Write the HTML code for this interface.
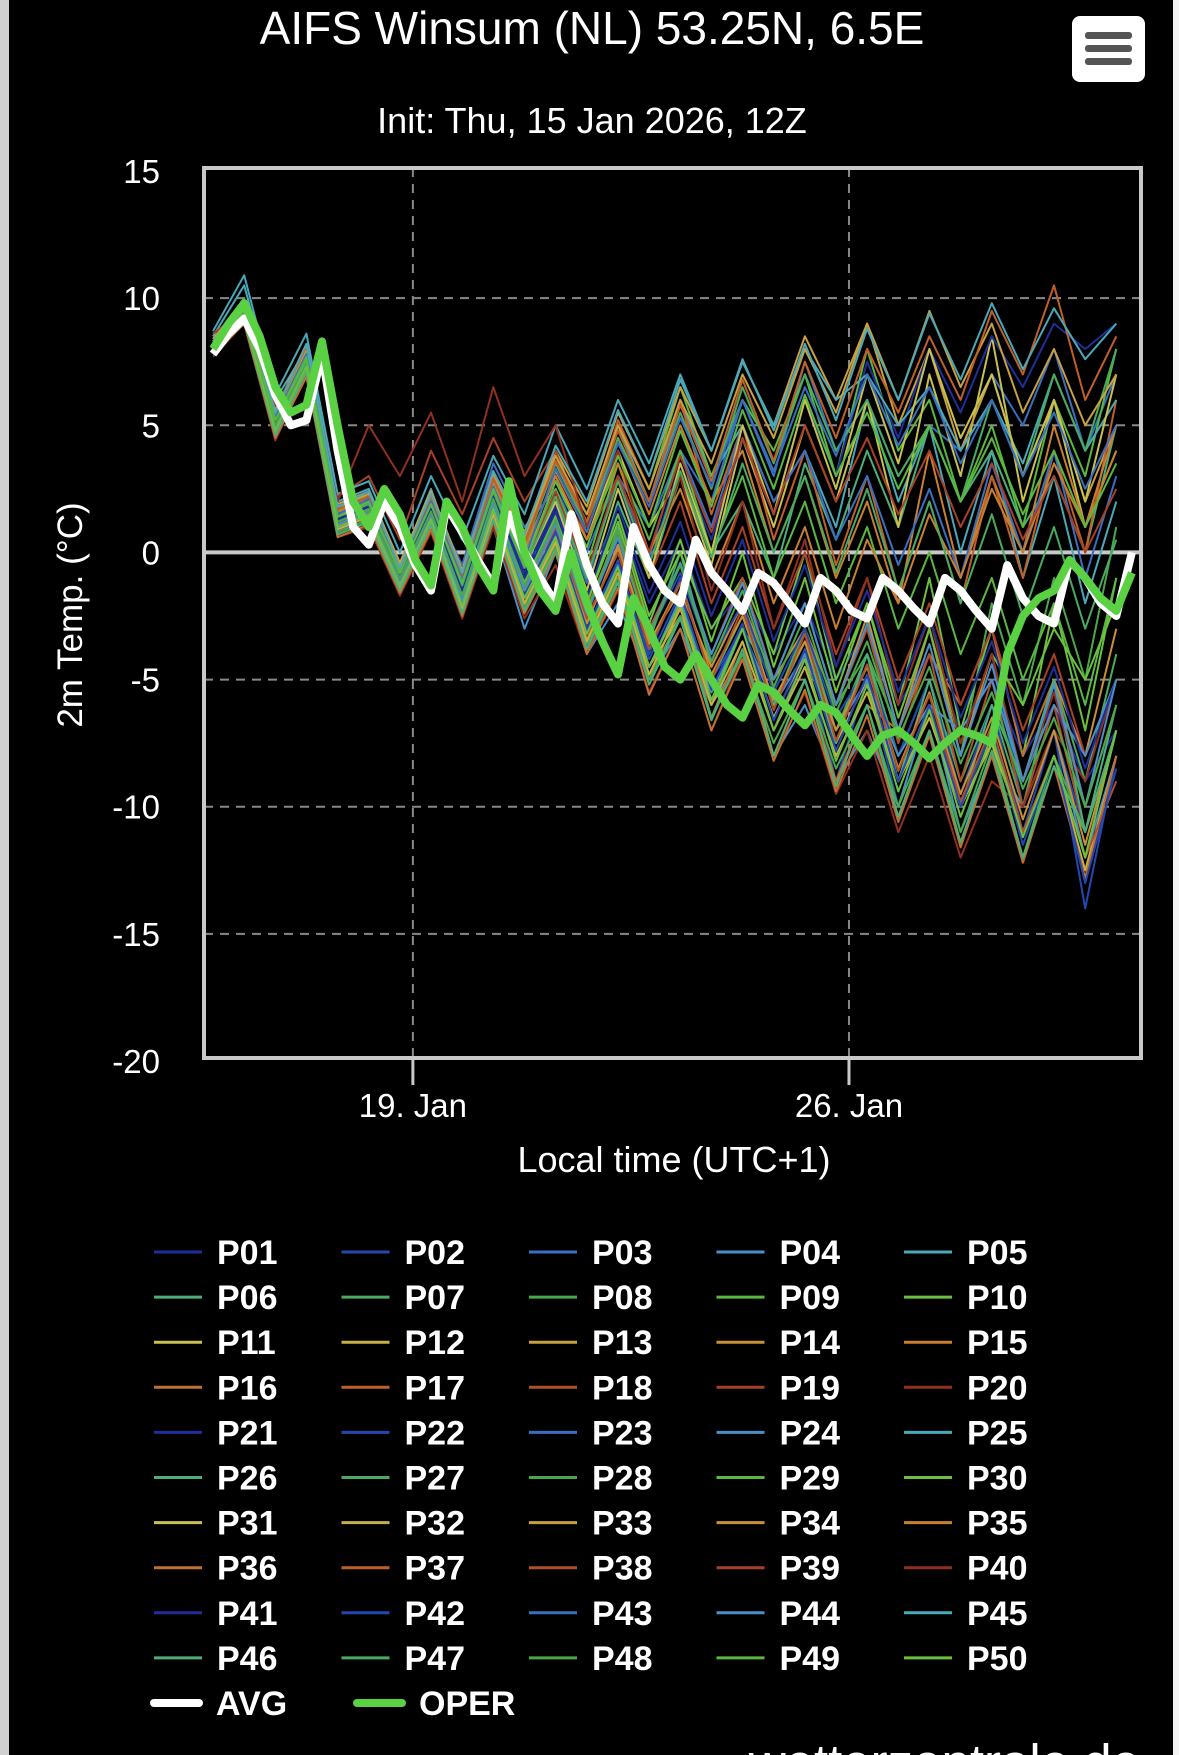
<!DOCTYPE html>
<html><head><meta charset="utf-8"><title>AIFS Winsum</title>
<style>
html,body{margin:0;padding:0;background:#000;}
svg{display:block;font-family:"Liberation Sans",sans-serif;}
</style></head>
<body>
<svg id="chart" width="1179" height="1755" viewBox="0 0 1179 1755">
<rect x="0" y="0" width="1179" height="1755" fill="#000"/>
<rect x="0" y="0" width="9" height="1755" fill="#d0d0d0"/>
<rect x="1173" y="0" width="6" height="1755" fill="#f4f4f4"/>
<text x="592" y="44" text-anchor="middle" font-size="46" fill="#fff">AIFS Winsum (NL) 53.25N, 6.5E</text>
<text x="592" y="133" text-anchor="middle" font-size="36" fill="#fff">Init: Thu, 15 Jan 2026, 12Z</text>
<g>
<rect x="1072" y="16" width="73" height="66" rx="8" fill="#fff"/>
<rect x="1085" y="32" width="47" height="7" rx="3" fill="#555"/>
<rect x="1085" y="45" width="47" height="7" rx="3" fill="#555"/>
<rect x="1085" y="58" width="47" height="7" rx="3" fill="#555"/>
</g>
<g id="grid"></g>
<g id="series"></g>
<rect x="204" y="168" width="937" height="890" fill="none" stroke="#c8c8c8" stroke-width="4"/>
<g id="axes"></g>
<text transform="translate(82,615) rotate(-90)" text-anchor="middle" font-size="35" fill="#fff">2m Temp. (°C)</text>
<text x="674" y="1172" text-anchor="middle" font-size="36" fill="#fff">Local time (UTC+1)</text>
<g id="legend"></g>
<text x="1140" y="1780" text-anchor="end" font-size="51" fill="#fff">wetterzentrale.de</text>
</svg>
<script>
const yTicks = [15, 10, 5, 0, -5, -10, -15, -20];
const xTickLabels = ["19. Jan", "26. Jan"];
const xTickHours = [77, 245];
const oper = [8,9,9.8,8.5,6.5,5.5,5.8,8.3,5,2,1,2.5,1.5,-0.3,-1.3,2,1,-0.5,-1.5,2.8,0,-1.5,-2.3,0,-2,-3.5,-4.8,-1.8,-3,-4.5,-5,-4,-5,-6,-6.5,-5.2,-5.5,-6.2,-6.8,-6,-6.3,-7.2,-8,-7.2,-7,-7.5,-8.1,-7.5,-7,-7.2,-7.5,-4,-2.5,-1.8,-1.5,-0.3,-1,-1.8,-2.3,-0.8];
const avg = [7.8,8.6,9.2,8,6.2,5,5.2,7.8,4,1,0.3,2,1,-0.5,-1.5,1.8,0.8,-0.3,-1.3,1.5,0,-1,-2,1.5,-0.5,-2,-2.8,1,-0.5,-1.5,-2,0.5,-0.8,-1.5,-2.3,-0.8,-1.2,-2,-2.8,-1,-1.5,-2.3,-2.6,-1,-1.5,-2.2,-2.8,-1,-1.5,-2.3,-3,-0.5,-1.8,-2.5,-2.8,-0.3,-1,-2,-2.5,0];
const P01=[8.5,9.8,5.5,7.8,1.2,2,-0.5,1.8,-1,2.5,0,3,-1,1.5,-2,0.5,-3,-1.5,-4,-2,-5,-3,-6,-4,-7,-5,-8,-6,-9,-7];
const P02=[8,9.5,4.8,7.2,0.8,1.5,-1.2,1.2,-2,1.5,-1.5,0.5,-3.5,-0.5,-4,-1,-5,-3,-7,-4,-9,-5,-10,-6,-8,-4,-10,-7,-11,-6];
const P03=[8.2,9.6,5.2,7.6,1.5,2.2,-0.8,2,-0.5,3.5,1,2.5,0,3,1,4,2,6,3,7.5,4,6,3,5,4,7,5,8,4,7];
const P04=[7.8,9,4.5,7,1,1.8,-1.5,1.5,-2.5,1,-3,0,-4,-2,-5,-3,-6,-4,-8,-6,-9,-7,-10,-6,-11,-8,-10,-7,-12,-8];
const P05=[8.5,10.5,6,8,2,2.5,-0.5,2.5,-1,3,0,4,1,5,2,6,3,5,2,4,1,6,2,5,0,4,-1,3,-2,2];
const P06=[8,9.2,5,7.4,1.3,1.6,-1,1,-1.8,2,-1.2,1.5,-2,2,-1,3,0,2,-1,3.5,0.5,4,1,5,2,4,1,3,0,5];
const P07=[8.3,10,5.5,8,1.8,2,-0.8,1.8,-1.2,3,-0.5,2,-2.5,1,-3.5,0,-4.5,-2,-6,-3,-7,-4,-8,-5,-9,-6,-10,-5,-9,-4];
const P08=[7.9,9.4,4.9,7.5,1,1.4,-1.3,1.4,-2.2,1.8,-2,0.5,-3,-1,-5,-2,-6,-3,-5,-2,-6,-4,-7,-3,-8,-2,-6,-1,-5,1];
const P09=[8.1,9.7,5.3,7.7,1.6,2.3,-0.6,2.2,-1,2.8,0.5,3.5,1.5,5,2.5,6.5,3,6,4,7,3,8,4,6,2,5,1,6,3,8];
const P10=[8,9.3,5.1,7.3,0.9,1.7,-1.1,1.6,-1.6,2.2,-1,1,-2,1.5,-2.5,0,-3,-1,-4,0,-5,-2,-6,-1,-7,-3,-8,-2,-7,-1];
const P11=[8.2,9.5,5,7.6,1.4,1.9,-0.9,1.9,-1.3,2.4,-0.4,2.8,0.5,4,1,3,-0.5,4.5,1,5,2,6,1,7,3,8.5,2,6,1,4];
const P12=[7.8,9.1,4.6,7.1,0.7,1.2,-1.6,1,-2.4,1.3,-2.3,0,-3.8,-1,-4.5,-2.5,-5.5,-3,-6.5,-4,-7.5,-5,-9,-6,-10,-7,-11,-8,-12,-7];
const P13=[8.4,9.8,5.6,8.2,1.9,2.4,-0.4,2.4,-0.7,3.2,0.8,4,1.8,5.5,3,6.5,4,7.5,5,8.5,6,9,5,8,4,7,3,6,2,5];
const P14=[8,9.4,4.8,7.4,1.1,1.5,-1.2,1.3,-2,1.6,-1.7,0.8,-2.8,0.2,-3.5,-1.5,-4.5,-2,-5,-3,-6,-2.5,-7,-3,-8,-4,-9,-5,-8,-3];
const P15=[8.1,9.6,5.2,7.9,1.5,2,-0.7,2,-1.1,2.6,-0.2,3.2,0.8,4.5,1.5,5,2,4,0,3,-1,2,-2,4,-1,3,0,5,1,4];
const P16=[7.9,9.2,4.7,7.2,0.8,1.3,-1.4,1.1,-2.3,1.4,-2.1,0.3,-3.4,-0.8,-5,-2,-6.5,-3.5,-8,-5,-9,-6,-7,-4,-6,-3,-8,-5,-10,-6];
const P17=[8.3,9.9,5.4,8.1,1.7,2.2,-0.6,2.1,-0.9,3,0.4,3.8,1.2,5.2,2.5,6,1.5,5,0.5,4,-0.5,3,-1.5,2,-2,3,-1,4,0,6];
const P18=[8,9.3,4.9,7.5,1,1.6,-1.2,1.5,-1.9,2,-1.3,1.2,-2.2,0.8,-3,-0.5,-4,-1,-5,-2,-6,-3,-7.5,-4,-9,-5,-10,-6,-11,-7];
const P19=[8.6,9.5,5.8,7.8,2.2,3,0.5,4,1.5,4.5,2,4,0.5,3,-1,2,-2,1,-3,0,-4,-1,-5,-2,-6,-3,-7,-4,-8,-5];
const P20=[7.7,9,4.4,7,0.6,1,-1.7,0.8,-2.6,1,-2.6,-0.5,-4,-1.5,-5.5,-3,-7,-4,-8,-5.5,-9.5,-7,-11,-8,-12,-9,-10,-7,-9,-5];
const P21=[8.2,9.6,5.1,7.6,1.3,1.8,-0.9,1.8,-1.4,2.3,-0.8,1.8,-1.5,2.5,-0.5,3.5,0.5,4.5,1.5,6,3,7.5,4.5,8,5.5,8.5,6.5,9,8,9];
const P22=[8,9.4,5,7.4,1.2,1.7,-1,1.6,-1.7,2.1,-1.1,1.3,-2.4,0.5,-3.2,-0.8,-4.2,-2,-5.5,-3,-6.5,-4.5,-8,-5,-9.5,-6,-11,-7,-14,-8];
const P23=[8.1,9.5,5.3,7.7,1.4,2,-0.8,1.9,-1.2,2.5,-0.6,2.2,-1.2,3,-0.2,4,1,5,2,4,0.5,3,-0.5,2.5,-1,3.5,0,4,-1,3];
const P24=[7.9,9.3,4.8,7.3,0.9,1.5,-1.3,1.3,-2.1,1.7,-1.8,0.7,-3.2,-0.5,-4.5,-1.8,-5.5,-3,-6,-4,-7,-5,-8,-6,-7,-5,-9,-6,-8,-5];
const P25=[8.7,10.9,6.2,8.6,2.3,2.8,0,3,0.5,3.8,1.5,5,2.5,6,3.5,7,4,7.5,5,8,6,7,5,6.5,4,6,3.5,7,4,6];
const P26=[8,9.2,4.9,7.5,1.1,1.6,-1.1,1.5,-1.8,2,-1.4,1,-2.6,0,-3.8,-1.2,-5,-2.5,-6,-3.5,-7.5,-4,-9,-5,-10,-6,-9,-5,-11,-6];
const P27=[8.3,9.7,5.4,7.9,1.6,2.1,-0.7,2,-1,2.8,0.2,3.5,1,4.5,2,5.5,2.5,6.5,3.5,7,4,6,3,5,2,6,3,7,4,8];
const P28=[7.8,9.1,4.6,7.1,0.8,1.3,-1.5,1.2,-2.3,1.4,-2.2,0.2,-3.6,-1,-5,-2.5,-6.5,-4,-7.5,-5,-8.5,-6,-10,-7,-11,-7.5,-12,-8,-11,-7];
const P29=[8.1,9.6,5.2,7.8,1.5,2,-0.8,2,-1.2,2.5,-0.5,2.5,-0.5,3.5,0.5,4,0,3,-1,2,-2,1,-3,0,-4,-1,-5,-2,-6,-1];
const P30=[8,9.4,5,7.5,1.2,1.7,-1,1.6,-1.6,2.1,-1.2,1.4,-2,1.2,-2.8,0.5,-3.5,0,-4.5,-1,-5.5,-2,-6.5,-3,-7.5,-4,-6,-3,-5,-2];
const P31=[8.2,9.5,5.1,7.7,1.4,1.9,-0.9,1.9,-1.3,2.4,-0.6,2,-1.5,2.5,-1,3.5,0,5,1.5,6,2.5,7,3.5,8,4.5,7,3,6,2,7];
const P32=[7.9,9.2,4.7,7.2,0.9,1.4,-1.4,1.2,-2.2,1.5,-2,0.4,-3.5,-0.8,-4.8,-2.2,-6,-3.5,-7,-4.5,-8,-5.5,-9,-6.5,-10,-7.5,-11,-8,-12.5,-8];
const P33=[8.4,9.8,5.5,8,1.8,2.3,-0.5,2.3,-0.8,3.1,0.6,3.8,1.5,5,2.5,6,3.5,7,4.5,8,5.5,9,6,9.5,6.5,9,5.5,8,5,7];
const P34=[8,9.3,4.9,7.4,1.1,1.6,-1.2,1.4,-1.9,1.9,-1.5,1,-2.8,0.3,-3.6,-1.2,-4.8,-2.5,-5.8,-3.5,-7,-4.5,-8.5,-5.5,-9.5,-6.5,-10.5,-7,-11.5,-7];
const P35=[8.1,9.7,5.3,7.8,1.6,2.1,-0.7,2.1,-1,2.7,0.1,3,0.5,3.5,0,2.5,-1,2,-2,1,-3,0.5,-2,1.5,-1,2.5,0,3.5,1,5];
const P36=[7.8,9,4.5,6.9,0.6,1.1,-1.6,0.9,-2.5,1.2,-2.4,0,-4,-1.4,-5.6,-3,-7,-4.2,-8.2,-5.4,-9.4,-6.4,-10.6,-7.2,-11.6,-8,-12.2,-8.4,-12.8,-8];
const P37=[8.3,9.8,5.5,8.1,1.7,2.2,-0.6,2.2,-0.9,2.9,0.3,3.6,1.2,4.8,2,5.8,2.8,6.8,3.6,7.5,4.5,8,5.5,8.5,6,9.5,7,10.5,6,8.5];
const P38=[8,9.4,5,7.5,1.1,1.6,-1.1,1.5,-1.8,2,-1.4,1,-2.6,0,-3.8,-1.2,-5,-2.2,-6.2,-3.2,-7.4,-4.4,-8.6,-5.6,-9.8,-6.8,-11,-8,-12,-9];
const P39=[8.2,9.6,5.2,7.7,1.4,2,-0.8,2,-1.2,2.5,-0.5,2.4,-0.8,3,0,3.8,0.8,4.5,1.5,5,2,4.5,1.5,4,1,3.5,0.5,3,0,2.5];
const P40=[8,9.2,4.8,7.3,2,5,3,5.5,2,6.5,3,5,1,4,-0.5,3,-1.5,2,-3,0.5,-4.5,-1,-6,-2.5,-7.5,-4,-9,-5.5,-10,-6];
const P41=[8.1,9.5,5.1,7.6,1.3,1.8,-0.9,1.7,-1.5,2.2,-1,1.6,-1.8,1.8,-1.6,1.2,-2.5,0.5,-3.5,-0.5,-4.5,-1.5,-5.5,-2.5,-6.5,-3.5,-7.5,-4.5,-8.5,-5];
const P42=[7.9,9.3,4.8,7.3,1,1.5,-1.3,1.3,-2,1.7,-1.7,0.8,-3,-0.3,-4.2,-1.6,-5.4,-2.8,-6.6,-3.8,-7.8,-4.8,-9,-6,-10,-7,-11.5,-8,-13,-8.5];
const P43=[8.2,9.7,5.3,7.8,1.5,2.1,-0.8,2,-1.1,2.6,-0.3,3.3,0.8,4.3,1.8,5.3,2.6,6,3.2,6.5,3.8,7,4.2,6.5,3.5,6,3,5.5,2.5,5];
const P44=[8,9.3,4.9,7.4,1.1,1.6,-1.2,1.4,-1.9,1.9,-1.5,1.1,-2.4,0.6,-3.2,-0.4,-4,-1.2,-5,-2,-6,-2.8,-7,-3.6,-8,-4.4,-9,-5.2,-10,-5];
const P45=[8.3,9.9,5.5,8.2,1.8,2.4,-0.6,2.3,-0.8,3.2,0.7,4.2,2,5.6,3,6.8,4,7.6,4.8,8.2,5.2,8.8,6,9.4,6.8,9.8,7.2,9.6,7.6,9];
const P46=[7.8,9.1,4.6,7.1,0.7,1.2,-1.5,1.1,-2.4,1.3,-2.3,0.1,-3.8,-1.2,-5.2,-2.6,-6.6,-3.8,-8,-5,-9.2,-6,-10.4,-7,-11.4,-7.8,-12,-8.4,-11,-7];
const P47=[8.1,9.6,5.2,7.7,1.4,1.9,-0.8,1.9,-1.3,2.4,-0.6,2.2,-1,2.8,-0.5,3.2,-0.2,3.5,0,3,-0.8,2.5,-1.5,2,-2,1.5,-2.5,1,-3,0.5];
const P48=[8,9.4,5,7.5,1.2,1.7,-1,1.6,-1.7,2.1,-1.3,1.3,-2.3,0.8,-3.3,-0.5,-4.3,-1.5,-5.3,-2.5,-6.3,-3.5,-7.3,-4.5,-8.3,-5.5,-9.3,-6.5,-10,-6];
const P49=[8.2,9.5,5.2,7.6,1.4,2,-0.8,1.9,-1.2,2.5,-0.5,2.8,0.2,3.8,1,4.8,1.8,5.6,2.5,6.2,3,5.5,2.5,5,2,4.5,1.5,4,1,3.5];
const P50=[7.9,9.2,4.8,7.3,1,1.5,-1.3,1.3,-2.1,1.7,-1.8,0.6,-3.2,-0.6,-4.5,-2,-5.8,-3,-7,-4.2,-8.2,-5.2,-9.4,-6.2,-10.4,-7.2,-11.2,-8,-12,-7];
const members=[P01,P02,P03,P04,P05,P06,P07,P08,P09,P10,P11,P12,P13,P14,P15,P16,P17,P18,P19,P20,P21,P22,P23,P24,P25,P26,P27,P28,P29,P30,P31,P32,P33,P34,P35,P36,P37,P38,P39,P40,P41,P42,P43,P44,P45,P46,P47,P48,P49,P50];
const palette=["#1f2f9a","#2448b0","#3a6fc0","#4a90c8","#4aa8b8","#4caf7a","#4aaa60","#4aa84a","#5ab840","#6cc040","#c8c050","#c8b048","#c8a040","#c89038","#c88030","#c07030","#c06028","#b05028","#a84028","#903020"];

const NS="http://www.w3.org/2000/svg";
const PX_TOP=171, PX_BOT=1061, X0=213, PX_PER_H=62.3/24;
function yScale(v){return PX_TOP+(15-v)*(PX_BOT-PX_TOP)/35;}
function xScale(h){return X0+h*PX_PER_H;}
function mk(tag,attrs,parent){const e=document.createElementNS(NS,tag);for(const k in attrs)e.setAttribute(k,attrs[k]);parent.appendChild(e);return e;}

const grid=document.getElementById('grid');
yTicks.forEach(v=>{
  const y=yScale(v);
  if(v===0){
    const l=mk('line',{x1:204,x2:1141,y1:y,y2:y,stroke:'#c8c8c8','stroke-width':4},grid);
    
    
  } else if(v!==15 && v!==-20){
    const l=mk('line',{x1:204,x2:1141,y1:y,y2:y,stroke:'#888','stroke-width':2,'stroke-dasharray':'9,7'},grid);
    
    
  }
});
xTickHours.forEach((h,i)=>{
  const x=xScale(h);
  const l=mk('line',{x1:x,x2:x,y1:168,y2:1058,stroke:'#888','stroke-width':2,'stroke-dasharray':'9,7'},grid);
  
  
});

const ser=document.getElementById('series');
members.forEach((arr,i)=>{
  const pts=arr.map((v,j)=>xScale(j*12).toFixed(1)+','+yScale(v).toFixed(1)).join(' ');
  const p=mk('polyline',{points:pts,fill:'none',stroke:palette[i%20],'stroke-width':2,'stroke-linejoin':'round'},ser);
  
  
});
[[avg,'#ffffff','avg-line'],[oper,'#5ad142','oper-line']].forEach(([arr,c,n])=>{
  const pts=arr.map((v,j)=>xScale(j*6).toFixed(1)+','+yScale(v).toFixed(1)).join(' ');
  const p=mk('polyline',{points:pts,fill:'none',stroke:c,'stroke-width':8,'stroke-linejoin':'round'},ser);
  
  
});

const ax=document.getElementById('axes');
yTicks.forEach(v=>{
  const t=mk('text',{x:160,y:yScale(v)+12,'text-anchor':'end','font-size':33,fill:'#fff'},ax);
  t.textContent=String(v);
  
  
});
xTickHours.forEach((h,i)=>{
  const x=xScale(h);
  const tk=mk('line',{x1:x,x2:x,y1:1058,y2:1085,stroke:'#c8c8c8','stroke-width':3},ax);
  
  
  const t=mk('text',{x:x,y:1117,'text-anchor':'middle','font-size':33,fill:'#fff'},ax);
  t.textContent=xTickLabels[i];
  
  
});

const lg=document.getElementById('legend');
for(let i=0;i<50;i++){
  const col=i%5,row=Math.floor(i/5);
  const x=154+col*187.5,y=1252+row*45.1;
  const g=mk('g',{},lg);
  
  
  mk('line',{x1:x,x2:x+48,y1:y,y2:y,stroke:palette[i%20],'stroke-width':3},g);
  const t=mk('text',{x:x+63,y:y+12,'font-size':34,'font-weight':'bold',fill:'#fff'},g);
  t.textContent='P'+String(i+1).padStart(2,'0');
}
[['AVG','#fff',154,'legend-entry-avg'],['OPER','#5ad142',357,'legend-entry-oper']].forEach(([lab,c,x,n])=>{
  const y=1703;
  const g=mk('g',{},lg);
  
  
  mk('line',{x1:x,x2:x+45,y1:y,y2:y,stroke:c,'stroke-width':8,'stroke-linecap':'round'},g);
  const t=mk('text',{x:x+62,y:y+12,'font-size':34,'font-weight':'bold',fill:'#fff'},g);
  t.textContent=lab;
});
</script>
</body></html>
